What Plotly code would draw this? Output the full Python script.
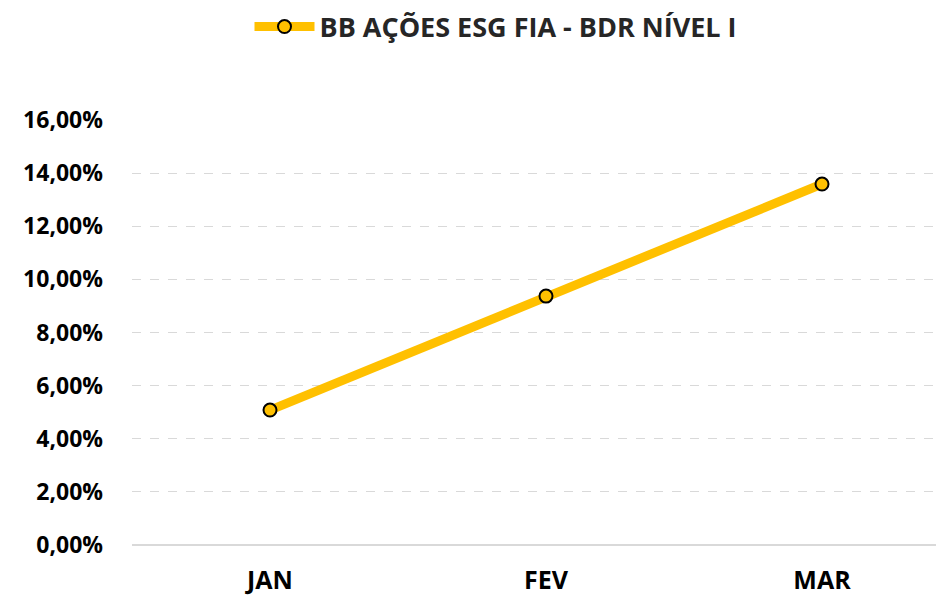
import plotly.graph_objects as go

months = ["JAN", "FEV", "MAR"]
values = [5.08, 9.37, 13.59]
series_name = "BB AÇÕES ESG FIA - BDR NÍVEL I"
y_ticks = [0, 2, 4, 6, 8, 10, 12, 14, 16]
y_tick_labels = [f"{v:.2f}".replace(".", ",") + "%" for v in y_ticks]

# The page body adds an 8px offset; margins compensate for it.
OFF = 8

fig = go.Figure()
fig.add_trace(go.Scatter(
    x=months, y=values, name=series_name, mode="lines+markers",
    line=dict(color="#FFC000", width=9),
    marker=dict(size=13, color="#FFC000", line=dict(color="#000000", width=2)),
    cliponaxis=False,
))

fig.update_layout(
    width=944, height=598,
    margin=dict(l=132 - OFF, r=OFF, t=120 - OFF, b=53 + OFF, autoexpand=False),
    paper_bgcolor="white", plot_bgcolor="white",
    font=dict(family="Open Sans", color="#000000"),
    showlegend=True,
    legend=dict(
        orientation="h", x=(496 - OFF) / 944, xanchor="center",
        y=1 - (27 - OFF) / 598, yanchor="middle",
        xref="container", yref="container",
        font=dict(size=27, color="#262626", family="Open Sans", weight="bold"),
        itemwidth=60, bgcolor="rgba(0,0,0,0)",
    ),
    xaxis=dict(
        range=[-0.5, 2.442], showgrid=False, zeroline=False, showline=False,
        automargin=False,
        ticks="", tickfont=dict(size=25, weight="bold"), ticklabelstandoff=18,
    ),
    yaxis=dict(
        range=[0, 16], tickvals=y_ticks, ticktext=y_tick_labels,
        automargin=False,
        showgrid=True, gridcolor="#D9D9D9", griddash="dash", gridwidth=1,
        zeroline=True, zerolinecolor="#D9D9D9", zerolinewidth=2,
        showline=False, ticks="", tickfont=dict(size=23, weight="bold"),
        ticklabelstandoff=28,
    ),
)
fig.write_html("out.html")
